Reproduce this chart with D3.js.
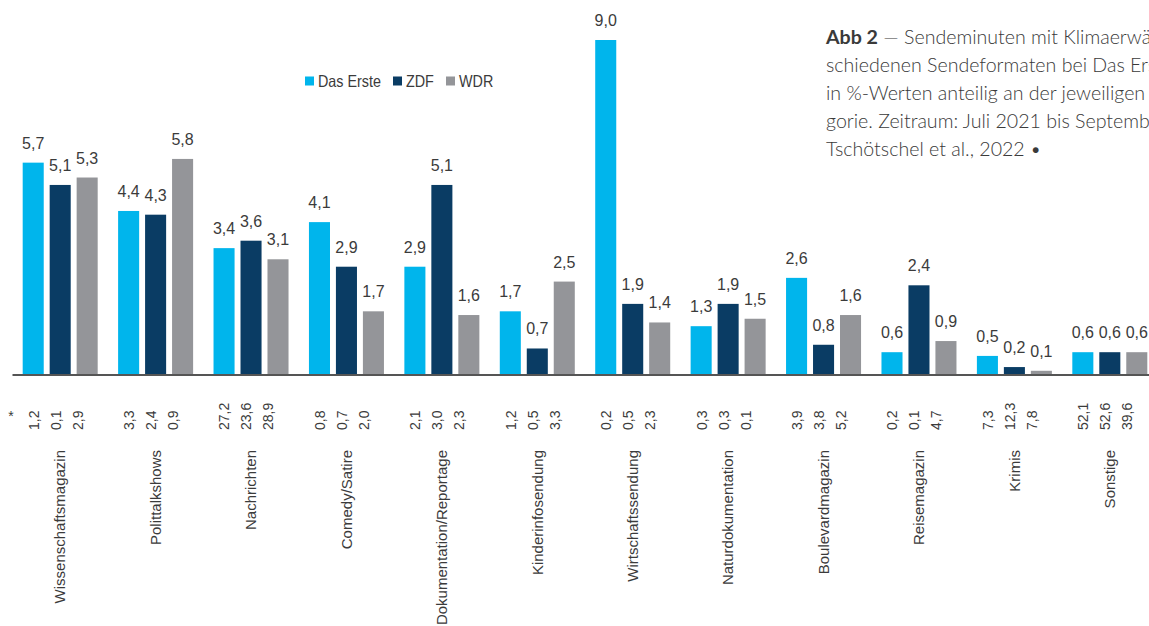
<!DOCTYPE html>
<html lang="de">
<head>
<meta charset="utf-8">
<script src="https://cdn.jsdelivr.net/npm/d3@7"></script>
<style>
  html, body { margin: 0; padding: 0; background: #fff; overflow: hidden; }
  svg { display: block; }
  .chart text { font-family: "Liberation Sans", Arial, sans-serif; fill: #3b3b3b; }
  .caption text { font-family: "Lato", "Open Sans", sans-serif; fill: #3a3a3a; font-weight: 300; }
</style>
</head>
<body>
<svg id="fig" width="1149" height="626"></svg>
<script>
// Sendeformate (Kategorien)
const categories = [
  "Wissenschaftsmagazin", "Polittalkshows", "Nachrichten", "Comedy/Satire",
  "Dokumentation/Reportage", "Kinderinfosendung", "Wirtschaftssendung",
  "Naturdokumentation", "Boulevardmagazin", "Reisemagazin", "Krimis", "Sonstige"
];
const series = ["Das Erste", "ZDF", "WDR"];
const seriesColors = ["#00b5ec", "#0a3c64", "#949599"];

// Anteil Sendeminuten mit Klimaerwähnung (in %)
const dasErste = [5.7, 4.4, 3.4, 4.1, 2.9, 1.7, 9.0, 1.3, 2.6, 0.6, 0.5, 0.6];
const zdf      = [5.1, 4.3, 3.6, 2.9, 5.1, 0.7, 1.9, 1.9, 0.8, 2.4, 0.2, 0.6];
const wdr      = [5.3, 5.8, 3.1, 1.7, 1.6, 2.5, 1.4, 1.5, 1.6, 0.9, 0.1, 0.6];

// Anteil des Sendeformats an allen Sendeminuten (*), je Sender
const shareErste = [1.2, 3.3, 27.2, 0.8, 2.1, 1.2, 0.2, 0.3, 3.9, 0.2, 7.3, 52.1];
const shareZdf   = [0.1, 2.4, 23.6, 0.7, 3.0, 0.5, 0.5, 0.3, 3.8, 0.1, 12.3, 52.6];
const shareWdr   = [2.9, 0.9, 28.9, 2.0, 2.3, 3.3, 2.3, 0.1, 5.2, 4.7, 7.8, 39.6];

const captionLines = [
  "Sendeminuten mit Klimaerwähnungen in ver-",
  "schiedenen Sendeformaten bei Das Erste, ZDF und WDR",
  "in %-Werten anteilig an der jeweiligen Sendeformatkate-",
  "gorie. Zeitraum: Juli 2021 bis September 2021. Quelle:",
  "Tschötschel et al., 2022 •"
];

const valuesBySeries = [dasErste, zdf, wdr];
const sharesBySeries = [shareErste, shareZdf, shareWdr];
const fmt = v => d3.format(".1f")(v).replace(".", ",");

const svg = d3.select("#fig");
const chart = svg.append("g").attr("class", "chart");

const baseY = 374.5;
const x0 = d3.scaleBand().domain(categories).range([12, 1158]).paddingInner(0.214).paddingOuter(0.112);
const x1 = d3.scaleBand().domain(series).range([0, x0.bandwidth()]).paddingInner(0.22).paddingOuter(0);
const y = d3.scaleLinear().domain([0, 9]).range([baseY, 40]);
// columns of the share table below the axis
const xt = d3.scalePoint().domain(series).range([11, 55]);

const rows = categories.map((c, i) => ({
  cat: c,
  items: series.map((s, k) => ({ s, k, v: valuesBySeries[k][i], share: sharesBySeries[k][i] }))
}));

const groups = chart.selectAll("g.grp").data(rows).join("g")
  .attr("class", "grp")
  .attr("transform", d => `translate(${x0(d.cat)},0)`);

groups.selectAll("rect").data(d => d.items).join("rect")
  .attr("x", d => x1(d.s))
  .attr("y", d => y(d.v))
  .attr("width", x1.bandwidth())
  .attr("height", d => baseY - y(d.v))
  .attr("fill", d => seriesColors[d.k]);

groups.selectAll("text.val").data(d => d.items).join("text")
  .attr("class", "val")
  .attr("x", d => x1(d.s) + x1.bandwidth() / 2)
  .attr("y", d => y(d.v) - 14)
  .attr("text-anchor", "middle")
  .style("font-size", "16px")
  .text(d => fmt(d.v));

// baseline axis
const xAxis = d3.axisBottom(x0).tickSize(0).tickFormat("");
const axisG = chart.append("g").attr("transform", `translate(0,${baseY})`).call(xAxis);
axisG.select(".domain").attr("stroke", "#555").attr("stroke-width", 2);

// rotated share values
groups.selectAll("text.share").data(d => d.items).join("text")
  .attr("class", "share")
  .attr("transform", d => `translate(${xt(d.s)},430) rotate(-90)`)
  .attr("dy", "0.35em")
  .style("font-size", "14px")
  .text(d => fmt(d.share));

// rotated category names
groups.append("text")
  .attr("class", "cat")
  .attr("transform", `translate(${x0.bandwidth() / 2},450) rotate(-90)`)
  .attr("text-anchor", "end")
  .attr("dy", "0.35em")
  .style("font-size", "15px")
  .text(d => d.cat);

chart.append("text")
  .attr("x", 11).attr("y", 421)
  .attr("text-anchor", "middle")
  .style("font-size", "14px")
  .text("*");

// legend (condensed lettering)
const legend = chart.append("g").attr("transform", "translate(305,76.5)");
const legendX = [0, 88, 141];
series.forEach((s, k) => {
  const g = legend.append("g").attr("transform", `translate(${legendX[k]},0)`);
  g.append("rect").attr("width", 9).attr("height", 9).attr("fill", seriesColors[k]);
  g.append("text")
    .attr("transform", "translate(13,10) scale(0.87,1)")
    .style("font-size", "16.5px")
    .text(s);
});

// caption
const cap = svg.append("g").attr("class", "caption").attr("transform", "translate(826,0)");
captionLines.forEach((line, i) => {
  const t = cap.append("text").attr("x", 0).attr("y", 44 + i * 28).style("font-size", "19.6px");
  if (i === 0) {
    t.append("tspan").style("font-weight", 700).text("Abb 2");
    t.append("tspan").text(" — " + line);
  } else {
    t.text(line);
  }
});
</script>
</body>
</html>
